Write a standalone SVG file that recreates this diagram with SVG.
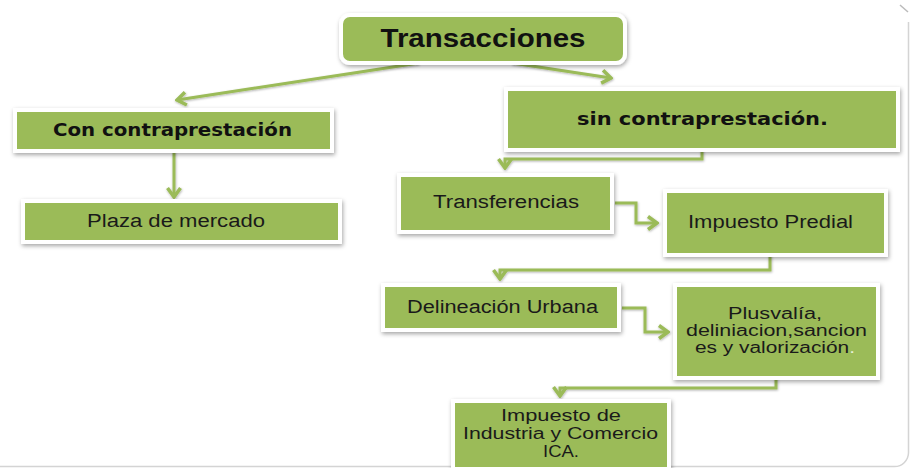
<svg xmlns="http://www.w3.org/2000/svg" width="910" height="468" viewBox="0 0 910 468">
<defs>
<filter id="sh" x="-10%" y="-20%" width="120%" height="150%">
<feDropShadow dx="1" dy="2" stdDeviation="2" flood-color="#000" flood-opacity="0.35"/>
</filter>
<filter id="lsh" filterUnits="userSpaceOnUse" x="0" y="0" width="910" height="468">
<feDropShadow dx="0.5" dy="1" stdDeviation="0.8" flood-color="#000" flood-opacity="0.3"/>
</filter>
<marker id="ah" viewBox="-12 -9 14 18" refX="0" refY="0" markerWidth="14" markerHeight="18" markerUnits="userSpaceOnUse" orient="auto">
<path d="M-9,-6.5 L0,0 L-9,6.5" fill="none" stroke="#9BBB59" stroke-width="3.5" stroke-linejoin="miter"/>
</marker>
</defs>
<style>
.box{fill:#9BBB59;stroke:#fff;stroke-width:4;filter:url(#sh)}
.t{font-family:"Liberation Sans",Arial,sans-serif;font-size:18px;fill:#1a1a1a;text-anchor:middle}
.m{font-size:16px}
.b{font-family:"DejaVu Sans",Verdana,sans-serif;font-weight:bold;font-size:18px;fill:#111;text-anchor:middle}
.c{fill:none;stroke:#9BBB59;stroke-width:3;marker-end:url(#ah)}
</style>
<rect width="910" height="468" fill="#fff"/>
<path d="M0,466.5 H894 A14,14 0 0 0 908.5,452 V22" fill="none" stroke="#d4d4d4" stroke-width="1.5"/>
<path d="M900,5 L908,12" fill="none" stroke="#bbb" stroke-width="1.5"/>
<g id="connectors" filter="url(#lsh)">
<path class="c" d="M419,63 L177,100"/>
<path class="c" d="M512,63 L611,78"/>
<path class="c" d="M174,150 L174,197"/>
<path class="c" d="M702,149 V159 H505 V168"/>
<path class="c" d="M615,203 H636 V223 H657"/>
<path class="c" d="M770,254 V270 H500 V279"/>
<path class="c" d="M622,308 H645 V332 H668"/>
<path class="c" d="M776,377 V388 H560 V396"/>
</g>
<g id="transacciones">
<rect x="341" y="15" width="284" height="48" rx="9" class="box"/>
<text x="483" y="47" class="b" style="font-family:'Liberation Sans',Arial,sans-serif;font-size:25px" textLength="205" lengthAdjust="spacingAndGlyphs">Transacciones</text>
</g>
<g id="con">
<rect x="15" y="110" width="317" height="41" class="box"/>
<text x="172.5" y="136" class="b" textLength="239" lengthAdjust="spacingAndGlyphs">Con contraprestación</text>
</g>
<g id="plaza">
<rect x="23" y="201" width="317" height="41" class="box"/>
<text x="176" y="227" class="t" textLength="178" lengthAdjust="spacingAndGlyphs">Plaza de mercado</text>
</g>
<g id="sin">
<rect x="506" y="89" width="392" height="61" class="box"/>
<text x="702.5" y="125" class="b" textLength="251" lengthAdjust="spacingAndGlyphs">sin contraprestación.</text>
</g>
<g id="transferencias">
<rect x="399" y="175" width="213" height="57" class="box"/>
<text x="506" y="208" class="t" textLength="146" lengthAdjust="spacingAndGlyphs">Transferencias</text>
</g>
<g id="predial">
<rect x="665" y="191" width="221" height="64" class="box"/>
<text x="770.5" y="228" class="t" textLength="165" lengthAdjust="spacingAndGlyphs">Impuesto Predial</text>
</g>
<g id="delineacion">
<rect x="383" y="285" width="236" height="45" class="box"/>
<text x="502.5" y="313" class="t" textLength="191" lengthAdjust="spacingAndGlyphs">Delineación Urbana</text>
</g>
<g id="plusvalia">
<rect x="675" y="285" width="203" height="93" class="box"/>
<text x="775" y="319" class="t m" textLength="94" lengthAdjust="spacingAndGlyphs">Plusvalía,</text>
<text x="776.5" y="336" class="t m" textLength="181" lengthAdjust="spacingAndGlyphs">deliniacion,sancion</text>
<text x="775" y="353" class="t m" textLength="160" lengthAdjust="spacingAndGlyphs">es y valorización<tspan fill="#e8f0d8">.</tspan></text>
</g>
<g id="ica">
<rect x="453" y="401" width="216" height="68" class="box"/>
<text x="561" y="421" class="t m" textLength="120" lengthAdjust="spacingAndGlyphs">Impuesto de</text>
<text x="560.5" y="439" class="t m" textLength="195" lengthAdjust="spacingAndGlyphs">Industria y Comercio</text>
<text x="561" y="457" class="t m" textLength="36" lengthAdjust="spacingAndGlyphs">ICA.</text>
</g>
</svg>
